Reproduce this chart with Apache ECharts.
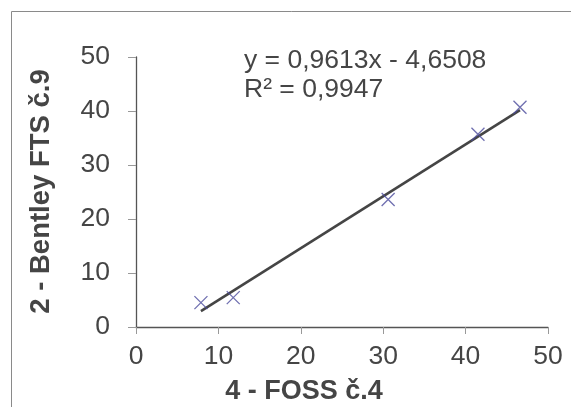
<!DOCTYPE html>
<html>
<head>
<meta charset="utf-8">
<script src="https://cdn.jsdelivr.net/npm/echarts@6/dist/echarts.min.js"></script>
<style>
  html, body { margin: 0; padding: 0; background: #fff; }
  #chart { width: 571px; height: 407px; }
</style>
</head>
<body>
<div id="chart"></div>
<script>
// Paired measurements: FOSS č.4 (x) vs Bentley FTS č.9 (y)
var fossValues = [7.88, 11.8, 30.6, 41.5, 46.6];
var bentleyValues = [4.52, 5.44, 23.6, 35.7, 40.7];

// Linear trendline coefficients shown in the equation label
var trendSlope = 0.9613;
var trendIntercept = -4.6508;
var trendR2 = 0.9947;

var axisTicks = [0, 10, 20, 30, 40, 50];

var xTitle = '4 - FOSS č.4';
var yTitle = '2 - Bentley FTS č.9';

function fmt(v, d) { return v.toFixed(d).replace('.', ','); }

var points = fossValues.map(function (x, i) { return [x, bentleyValues[i]]; });
var xMin = Math.min.apply(null, fossValues);
var xMax = Math.max.apply(null, fossValues);
var trendLine = [
  [xMin, trendSlope * xMin + trendIntercept],
  [xMax, trendSlope * xMax + trendIntercept]
];

var eqText = 'y = ' + fmt(trendSlope, 4) + 'x ' + (trendIntercept < 0 ? '- ' : '+ ') + fmt(Math.abs(trendIntercept), 4);
var r2Text = 'R² = ' + fmt(trendR2, 4);

var textColor = '#454545';
var font = 'Liberation Sans, Arial, sans-serif';

var chart = echarts.init(document.getElementById('chart'), null, { renderer: 'canvas' });
chart.setOption({
  animation: false,
  backgroundColor: '#fff',
  grid: { left: 136, right: 23, top: 57, bottom: 80 },
  xAxis: {
    type: 'value',
    min: axisTicks[0], max: axisTicks[axisTicks.length - 1], interval: 10,
    axisLine: { show: true, lineStyle: { color: '#555', width: 1.3 } },
    axisTick: { show: true, length: 7, lineStyle: { color: '#999', width: 1 } },
    axisLabel: { color: textColor, fontSize: 26.5, fontFamily: font, margin: 16 },
    splitLine: { show: false }
  },
  yAxis: {
    type: 'value',
    min: axisTicks[0], max: axisTicks[axisTicks.length - 1], interval: 10,
    axisLine: { show: true, lineStyle: { color: '#555', width: 1.3 } },
    axisTick: { show: true, length: 8, lineStyle: { color: '#999', width: 1 } },
    axisLabel: { color: textColor, fontSize: 26.5, fontFamily: font, margin: 26 },
    splitLine: { show: false }
  },
  graphic: [
    {
      type: 'rect', silent: true, z: -1,
      shape: { x: 11.5, y: 11.5, width: 700, height: 500 },
      style: { fill: 'none', stroke: '#8a8a8a', lineWidth: 1 }
    },
    {
      type: 'text', left: 244, top: 47,
      style: { text: eqText, fill: textColor, font: '26.5px ' + font }
    },
    {
      type: 'text', left: 244, top: 76,
      style: { text: r2Text, fill: textColor, font: '26.5px ' + font }
    },
    {
      type: 'text', x: 304, y: 392,
      style: { text: xTitle, fill: textColor, font: 'bold 27px ' + font, align: 'center', verticalAlign: 'middle' }
    },
    {
      type: 'text', x: 41, y: 191.5, rotation: Math.PI / 2,
      style: { text: yTitle, fill: textColor, font: 'bold 27.5px ' + font, align: 'center', verticalAlign: 'middle' }
    }
  ],
  series: [
    {
      type: 'line',
      data: trendLine,
      symbol: 'none',
      lineStyle: { color: '#454545', width: 2.6 },
      z: 2
    },
    {
      type: 'scatter',
      data: points,
      symbol: 'path://M0,0L10,10M10,0L0,10',
      symbolSize: 13,
      itemStyle: { color: 'none', borderColor: '#4b4b9c', borderWidth: 1.3 },
      z: 3
    }
  ]
});
</script>
</body>
</html>
